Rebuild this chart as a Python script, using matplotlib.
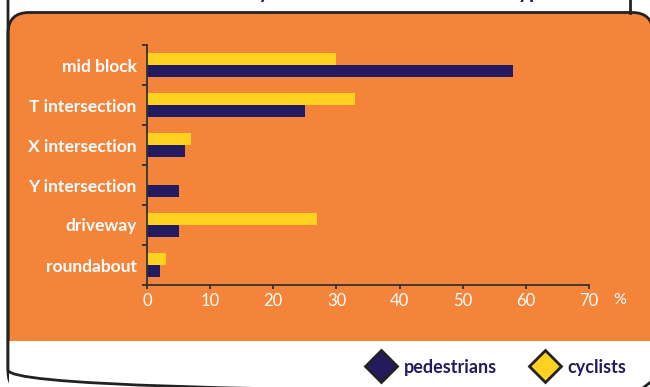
import matplotlib
matplotlib.use('Agg')
import matplotlib.pyplot as plt
from matplotlib.patches import FancyBboxPatch, Rectangle
from matplotlib.lines import Line2D
import numpy as np

# data (percent)
categories = ['mid block', 'T intersection', 'X intersection',
              'Y intersection', 'driveway', 'roundabout']
pedestrians = [58, 25, 6, 5, 5, 2]
cyclists = [30, 33, 7, 0, 27, 3]
xticks = [0, 10, 20, 30, 40, 50, 60, 70]

ORANGE = '#F4843A'
NAVY = '#231A5F'
YELLOW = '#FDD120'
EDGE = '#222222'

plt.rcParams['font.family'] = ['Lato', 'DejaVu Sans']

fig = plt.figure(figsize=(6.5, 3.87), dpi=100)

# background frame drawn in pixel coordinates
bg = fig.add_axes([0, 0, 1, 1], zorder=0)
bg.set_xlim(0, 650)
bg.set_ylim(387, 0)
bg.axis('off')

bg.add_patch(FancyBboxPatch((8, -40), 700, 432, boxstyle='round,pad=0,rounding_size=22',
                            facecolor='white', edgecolor='none'))
bg.add_patch(FancyBboxPatch((8, 12.5), 645, 380, boxstyle='round,pad=0,rounding_size=21',
                            facecolor=ORANGE, edgecolor=EDGE, lw=2))
bg.add_patch(Rectangle((9, 341), 700, 60, facecolor='white', edgecolor='none'))
bg.add_patch(FancyBboxPatch((8, -40), 700, 432, boxstyle='round,pad=0,rounding_size=22',
                            facecolor='none', edgecolor=EDGE, lw=2))
bg.plot([630, 630], [0, 12.5], color=EDGE, lw=2)
bg.plot([643, 652], [388, 381], color=EDGE, lw=2)
bg.text(552, -1.5, 'Per cent of crashes by location and intersection type',
        color=NAVY, fontsize=15, fontweight='bold', ha='right', va='baseline')
bg.text(620, 300, '%', color='white', fontsize=11.5, ha='center', va='center')

# bar chart
ax = fig.add_axes([147 / 650, 102 / 387, 442 / 650, 240 / 387], zorder=1)
ax.patch.set_alpha(0)
y = np.arange(len(categories))
h = 0.31
ax.barh(y - h / 2, cyclists, height=h, color=YELLOW, label='cyclists')
ax.barh(y + h / 2, pedestrians, height=h, color=NAVY, label='pedestrians')

ax.set_xlim(0, 70)
ax.set_ylim(len(categories) - 0.5, -0.5)
ax.set_xticks(xticks)
ax.set_yticks(y)
ax.set_yticklabels(categories)
ax.set_yticks(np.arange(-0.5, len(categories)), minor=True)

for s in ['top', 'right']:
    ax.spines[s].set_visible(False)
for s in ['left', 'bottom']:
    ax.spines[s].set_color('#333333')
    ax.spines[s].set_linewidth(1.3)

ax.tick_params(axis='y', which='major', length=0, pad=7.5,
               labelcolor='white', labelsize=12.5)
ax.tick_params(axis='y', which='minor', length=3.5, width=1.3, color='#333333')
ax.tick_params(axis='x', length=3, width=1.3, color='#333333', pad=3,
               labelcolor='white', labelsize=12)
for lab in ax.get_yticklabels():
    lab.set_fontweight('bold')

handles = [
    Line2D([], [], ls='none', marker='D', markersize=16, markerfacecolor=NAVY,
           markeredgecolor=EDGE, markeredgewidth=2, label='pedestrians'),
    Line2D([], [], ls='none', marker='D', markersize=16, markerfacecolor=YELLOW,
           markeredgecolor=EDGE, markeredgewidth=2, label='cyclists'),
]
leg = fig.legend(handles=handles, loc='center right', bbox_to_anchor=(626 / 650, 20 / 387),
                 borderaxespad=0, borderpad=0, ncol=2, frameon=False, fontsize=13,
                 handletextpad=0.6, columnspacing=2.0, handlelength=1.3)
for t in leg.get_texts():
    t.set_color(NAVY)
    t.set_fontweight('bold')

fig.savefig('out.png', dpi=100)
